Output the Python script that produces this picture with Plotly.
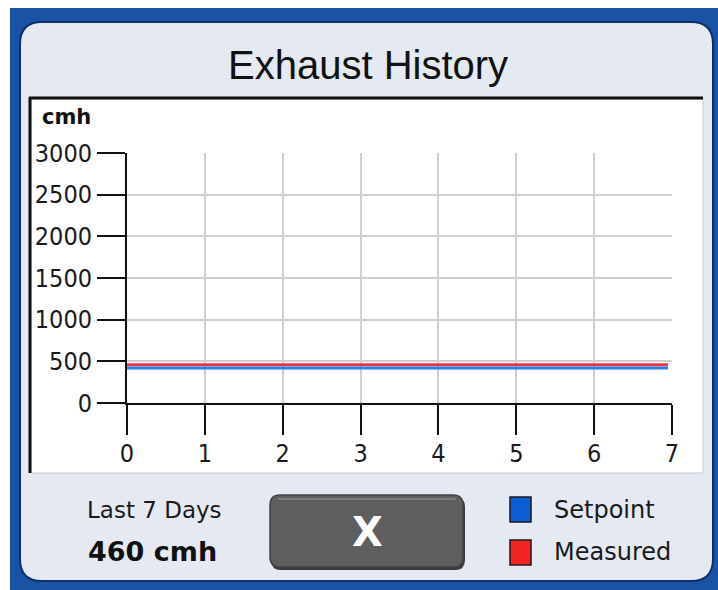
import plotly.graph_objects as go

W, H = 718, 590

# ---- data ----
days = [0, 1, 2, 3, 4, 5, 6, 6.95]
setpoint = [420, 420, 420, 420, 420, 420, 420, 420]
measured = [458, 458, 458, 458, 458, 458, 458, 458]
x_ticks = [0, 1, 2, 3, 4, 5, 6, 7]
y_ticks = [0, 500, 1000, 1500, 2000, 2500, 3000]
title_text = "Exhaust History"
unit_text = "cmh"
period_text = "Last 7 Days"
summary_text = "460 cmh"
series_names = ["Setpoint", "Measured"]

BLUE_LINE = "#2f7fe0"
RED_LINE = "#e8384a"
BLUE_KEY = "#0b5fd4"
RED_KEY = "#f42424"

TICK_FONT = "DejaVu Sans Condensed, Liberation Sans, sans-serif"
UI_FONT = "DejaVu Sans, Verdana, sans-serif"


def px(x):
    return x / W


def py(y):
    return 1 - y / H


def rrect(x0, y0, x1, y1, r):
    X0, X1 = px(x0), px(x1)
    Y0, Y1 = py(y0), py(y1)
    rx, ry = r / W, r / H
    return (f"M {X0+rx},{Y0} L {X1-rx},{Y0} Q {X1},{Y0} {X1},{Y0-ry} "
            f"L {X1},{Y1+ry} Q {X1},{Y1} {X1-rx},{Y1} L {X0+rx},{Y1} "
            f"Q {X0},{Y1} {X0},{Y1+ry} L {X0},{Y0-ry} Q {X0},{Y0} {X0+rx},{Y0} Z")


fig = go.Figure()
fig.add_trace(go.Scatter(x=days, y=measured, mode="lines", name=series_names[1],
                         line=dict(color=RED_LINE, width=3), showlegend=False, hoverinfo="skip"))
fig.add_trace(go.Scatter(x=days, y=setpoint, mode="lines", name=series_names[0],
                         line=dict(color=BLUE_LINE, width=3), showlegend=False, hoverinfo="skip"))

shapes = []
# white strips at top / left of the frame
shapes.append(dict(type="rect", xref="paper", yref="paper", x0=0, x1=1,
                   y0=py(8), y1=1, fillcolor="#ffffff", line=dict(width=0), layer="above"))
shapes.append(dict(type="rect", xref="paper", yref="paper", x0=0, x1=px(10),
                   y0=0, y1=1, fillcolor="#ffffff", line=dict(width=0), layer="above"))
# panel
shapes.append(dict(type="path", xref="paper", yref="paper", path=rrect(20, 22, 713, 581, 22),
                   fillcolor="#e4e9f2", line=dict(color="#0e2f68", width=2), layer="below"))
# chart white box
shapes.append(dict(type="rect", xref="paper", yref="paper", x0=px(31), x1=px(703),
                   y0=py(473), y1=py(99), fillcolor="#ffffff",
                   line=dict(color="#c4cad6", width=1), layer="below"))
shapes.append(dict(type="line", xref="paper", yref="paper", x0=px(29), x1=px(703),
                   y0=py(98), y1=py(98), line=dict(color="#111111", width=3), layer="below"))
shapes.append(dict(type="line", xref="paper", yref="paper", x0=px(30), x1=px(30),
                   y0=py(97), y1=py(473), line=dict(color="#111111", width=3), layer="below"))
# close button
shapes.append(dict(type="path", xref="paper", yref="paper", path=rrect(271, 497, 465, 570, 10),
                   fillcolor="#3a3a3a", line=dict(width=0), layer="above"))
shapes.append(dict(type="path", xref="paper", yref="paper", path=rrect(270, 495, 463, 567, 10),
                   fillcolor="#5e5d60", line=dict(color="#444444", width=1.5), layer="above"))
shapes.append(dict(type="line", xref="paper", yref="paper", x0=px(278), x1=px(456),
                   y0=py(499), y1=py(499), line=dict(color="#7c7b7e", width=2), layer="above"))
# legend keys
shapes.append(dict(type="rect", xref="paper", yref="paper", x0=px(510), x1=px(531),
                   y0=py(522), y1=py(497), fillcolor=BLUE_KEY, line=dict(color="#1a1a1a", width=1.5),
                   layer="above"))
shapes.append(dict(type="rect", xref="paper", yref="paper", x0=px(510), x1=px(531),
                   y0=py(565), y1=py(540), fillcolor=RED_KEY, line=dict(color="#1a1a1a", width=1.5),
                   layer="above"))

annotations = [
    dict(text=title_text, x=px(368), y=py(65), xref="paper", yref="paper", showarrow=False,
         xanchor="center", yanchor="middle", font=dict(family="Liberation Sans, Arial, sans-serif",
                                                       size=40, color="#111111")),
    dict(text=f"<b>{unit_text}</b>", x=px(40), y=py(117), xref="paper", yref="paper", showarrow=False,
         xanchor="left", yanchor="middle", font=dict(family=UI_FONT, size=21, color="#111111")),
    dict(text=period_text, x=px(154), y=py(510), xref="paper", yref="paper", showarrow=False,
         xanchor="center", yanchor="middle", font=dict(family=UI_FONT, size=23, color="#1a1a1a")),
    dict(text=f"<b>{summary_text}</b>", x=px(152), y=py(551), xref="paper", yref="paper",
         showarrow=False, xanchor="center", yanchor="middle",
         font=dict(family=UI_FONT, size=27, color="#111111")),
    dict(text="<b>X</b>", x=px(367), y=py(532), xref="paper", yref="paper", showarrow=False,
         xanchor="center", yanchor="middle", font=dict(family=UI_FONT, size=40, color="#ffffff")),
    dict(text=series_names[0], x=px(552), y=py(510), xref="paper", yref="paper", showarrow=False,
         xanchor="left", yanchor="middle", font=dict(family=UI_FONT, size=24, color="#1a1a1a")),
    dict(text=series_names[1], x=px(552), y=py(552), xref="paper", yref="paper", showarrow=False,
         xanchor="left", yanchor="middle", font=dict(family=UI_FONT, size=24, color="#1a1a1a")),
]

fig.update_layout(
    width=W, height=H,
    autosize=False,
    margin=dict(l=0, r=0, t=0, b=0, pad=0, autoexpand=False),
    paper_bgcolor="#1a52a6",
    plot_bgcolor="rgba(0,0,0,0)",
    shapes=shapes,
    annotations=annotations,
    showlegend=False,
    hovermode=False,
    xaxis=dict(domain=[px(127), px(672)], range=[0, 7], tickvals=x_ticks, automargin=False,
               ticktext=[str(v) for v in x_ticks], showgrid=True, gridcolor="#cfcfcf", gridwidth=2,
               showline=True, linecolor="#111111", linewidth=2, ticks="outside", ticklen=30,
               tickwidth=2, tickcolor="#111111", zeroline=False, fixedrange=True,
               ticklabelstandoff=-3,
               tickfont=dict(family=TICK_FONT, size=25, color="#1a1a1a")),
    yaxis=dict(domain=[py(403), py(153)], range=[0, 3000], tickvals=y_ticks, automargin=False,
               ticktext=[str(v) for v in y_ticks], showgrid=True, gridcolor="#cfcfcf", gridwidth=2,
               showline=True, linecolor="#111111", linewidth=2, ticks="outside", ticklen=28,
               tickwidth=2, tickcolor="#111111", zeroline=False, fixedrange=True,
               tickfont=dict(family=TICK_FONT, size=25, color="#1a1a1a")),
)

fig.write_html(
    "out.html",
    config={"displayModeBar": False, "staticPlot": True},
    post_script="document.body.style.margin='0';document.body.style.padding='0';"
                "document.documentElement.style.overflow='hidden';document.body.style.overflow='hidden';",
)
